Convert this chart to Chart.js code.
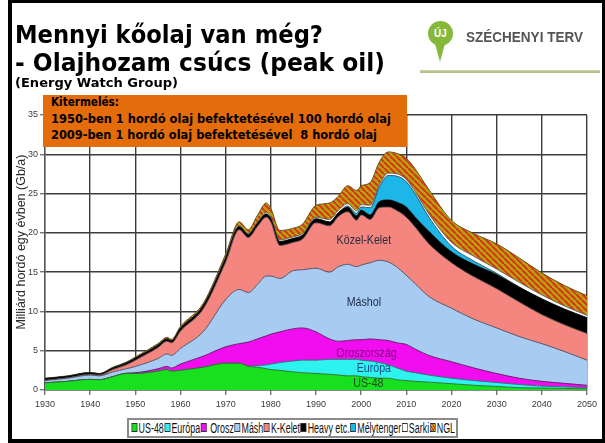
<!DOCTYPE html>
<html>
<head>
<meta charset="utf-8">
<script src="https://cdn.jsdelivr.net/npm/chart.js@4"></script>
<style>
  html, body { margin: 0; padding: 0; background: #fff; }
  #slide { position: relative; width: 605px; height: 443px; overflow: hidden; background: #fff; }
  #chart { position: absolute; left: 0; top: 0; }
  .fit { position: absolute; white-space: pre; transform-origin: 0 0; line-height: 1; }
  .title { font-family: "DejaVu Sans", sans-serif; font-weight: bold; font-size: 24px; color: #000; left: 15px; }
  #frame { position: absolute; left: 8px; top: -1px; width: 590px; height: 436px; border: 4px solid #000; pointer-events: none; }
  #box { position: absolute; left: 43px; top: 95px; width: 364px; height: 52px; background: #E46C0A; }
  .boxline { font-family: "DejaVu Sans", sans-serif; font-weight: bold; font-size: 11.5px; color: #000; left: 51px; }
  #pin { position: absolute; left: 428px; top: 21px; width: 25px; height: 25px; border-radius: 50%; background: #86B83C; }
  #pintail { position: absolute; left: 434px; top: 40px; width: 0; height: 0;
    border-left: 6.5px solid transparent; border-right: 6.5px solid transparent; border-top: 22px solid #86B83C; }
  #uj { position: absolute; left: 428px; top: 28px; width: 25px; text-align: center; font: bold 10px "Liberation Sans", sans-serif; color: #fff; }
  #rule { position: absolute; left: 420px; top: 70px; width: 180px; height: 3px; background: linear-gradient(#C9D3A8, #AEBB80); }
  #legend { position: absolute; left: 127px; top: 418px; width: 327px; height: 16px; border: 2px solid #8a8a8a; background: #fff; overflow: hidden; }
  #legend .fit { left: 2px; top: 1px; font-family: "Liberation Sans", sans-serif; font-size: 14px; line-height: 14px; color: #111; }
  .sw { display: inline-block; width: 7px; height: 7px; border: 1px solid #333; margin: 0 2px 0 1px; vertical-align: 1px; }
</style>
</head>
<body>
<div id="slide">
  <canvas id="chart" width="605" height="443"></canvas>

  <div class="fit title" style="top:23px" data-w="308">Mennyi kőolaj van még?</div>
  <div class="fit title" style="top:51px" data-w="370">- Olajhozam csúcs (peak oil)</div>
  <div class="fit title" style="top:76px;font-size:13px" data-w="163">(Energy Watch Group)</div>

  <div id="pintail"></div>
  <div id="pin"></div>
  <div id="uj">ÚJ</div>
  <div class="fit" style="left:466px;top:29px;font:bold 14.5px 'Liberation Sans',sans-serif;color:#555" data-w="117">SZÉCHENYI TERV</div>
  <div id="rule"></div>

  <div id="box"></div>
  <div class="fit boxline" style="top:97px" data-w="68">Kitermelés:</div>
  <div class="fit boxline" style="top:114px" data-w="340">1950-ben 1 hordó olaj befektetésével 100 hordó olaj</div>
  <div class="fit boxline" style="top:130px" data-w="326">2009-ben 1 hordó olaj befektetésével  8 hordó olaj</div>

  <div id="legend"><div class="fit" data-w="324" id="legendInner"></div></div>
  <div id="frame"></div>
</div>

<script>
// years on the x axis
const years = [1930, 1935, 1940, 1942, 1945, 1948, 1950, 1955, 1957, 1958, 1960, 1965,
  1970, 1973, 1975, 1977, 1979, 1980, 1982, 1985, 1987,
  1990, 1993, 1995, 1997, 1999, 2000, 2002, 2004, 2006, 2008,
  2010, 2012, 2015, 2020, 2025, 2030, 2035, 2040, 2045, 2050];

// production per region, Gb per year (each layer on top of the one before)
const us48 = [0.9, 1.1, 1.35, 1.3, 1.7, 2.1, 2.1, 2.4, 2.6, 2.4, 2.5, 2.9,
  3.4, 3.4, 3.0, 2.9, 2.7, 2.6, 2.5, 2.3, 2.2,
  2.1, 2.0, 1.9, 1.8, 1.8, 1.7, 1.6, 1.5, 1.5, 1.3,
  1.2, 1.1, 1.0, 0.8, 0.6, 0.45, 0.3, 0.25, 0.2, 0.15];
const europa = [0, 0, 0, 0, 0, 0, 0, 0, 0, 0, 0, 0,
  0, 0, 0.05, 0.2, 0.5, 0.7, 1.0, 1.4, 1.6,
  1.7, 1.9, 2.0, 2.1, 2.1, 2.1, 2.1, 2.0, 1.7, 1.5,
  1.2, 1.1, 0.9, 0.7, 0.6, 0.5, 0.4, 0.25, 0.2, 0.15];
const orosz = [0, 0, 0, 0, 0, 0.05, 0.1, 0.3, 0.4, 0.4, 0.8, 1.4,
  2.1, 2.5, 3.05, 3.4, 3.7, 3.8, 3.9, 4.1, 4.1,
  3.6, 2.6, 2.3, 2.4, 2.5, 2.6, 2.8, 2.9, 3.1, 3.2,
  3.4, 3.0, 2.5, 2.1, 1.6, 1.15, 0.8, 0.6, 0.45, 0.3];
const mash = [0.3, 0.4, 0.55, 0.5, 0.6, 0.55, 0.8, 1.3, 1.6, 1.6, 2.0, 3.1,
  6.0, 6.9, 6.3, 6.9, 7.6, 7.4, 6.8, 7.4, 7.4,
  8.1, 8.5, 9.5, 9.7, 9.3, 9.5, 9.7, 10.1, 10.0, 9.6,
  8.8, 8.3, 7.5, 6.8, 6.2, 5.8, 5.3, 4.8, 4.05, 3.2];
const kKelet = [0.05, 0.05, 0.1, 0.1, 0.3, 0.5, 0.8, 1.4, 1.6, 1.6, 2.2, 2.9,
  4.8, 7.6, 7.0, 7.4, 7.5, 6.9, 4.2, 3.6, 3.9,
  5.8, 5.9, 6.4, 6.7, 5.9, 6.4, 5.5, 6.7, 7.0, 7.2,
  7.4, 7.2, 6.7, 5.8, 5.4, 5.0, 4.4, 3.7, 3.4, 3.4];
const heavy = [0.2, 0.2, 0.2, 0.15, 0.2, 0.25, 0.25, 0.3, 0.3, 0.25, 0.35, 0.4,
  0.5, 0.4, 0.4, 0.4, 0.4, 0.4, 0.5, 0.5, 0.5,
  0.5, 0.5, 0.5, 0.6, 0.6, 0.6, 0.6, 0.8, 0.9, 1.1,
  1.3, 1.3, 1.6, 1.4, 1.6, 1.8, 1.9, 2.0, 2.0, 2.0];
const melytenger = [0, 0, 0, 0, 0, 0, 0, 0, 0, 0, 0, 0,
  0, 0, 0, 0, 0, 0, 0, 0, 0,
  0, 0, 0, 0.1, 0.3, 0.4, 0.9, 1.8, 3.1, 3.3,
  3.2, 2.9, 1.8, 0.7, 0.4, 0.15, 0, 0, 0, 0];
const sarki = [0, 0, 0, 0, 0, 0, 0, 0, 0, 0, 0, 0,
  0.05, 0.1, 0.1, 0.1, 0.2, 0.2, 0.2, 0.2, 0.2,
  0.2, 0.3, 0.3, 0.3, 0.3, 0.3, 0.3, 0.3, 0.3, 0.3,
  0.3, 0.3, 0.4, 0.5, 0.6, 0.55, 0.6, 0.5, 0.4, 0.3];
const ngl = [0.05, 0.05, 0.05, 0.05, 0.1, 0.1, 0.15, 0.2, 0.2, 0.2, 0.25, 0.3,
  0.45, 0.5, 0.5, 0.9, 1.2, 1.1, 1.2, 1.1, 1.2,
  1.5, 2.1, 1.8, 2.3, 2.6, 2.4, 2.9, 2.9, 2.7, 2.6,
  2.7, 2.9, 3.1, 2.8, 2.9, 3.2, 3.1, 2.8, 2.6, 2.5];

const legendLabels = ['US-48', 'Európa', ' Orosz', 'Másh', 'K-Kelet', 'Heavy etc.', 'Mélytenger', 'Sarki', 'NGL'];
const yTicks = [0, 5, 10, 15, 20, 25, 30, 35];
const xTicks = [1930, 1940, 1950, 1960, 1970, 1980, 1990, 2000, 2010, 2020, 2030, 2040, 2050];

function hatch() {
  const c = document.createElement('canvas');
  c.width = 6; c.height = 6;
  const g = c.getContext('2d');
  g.fillStyle = '#B5A60C';
  g.fillRect(0, 0, 6, 6);
  g.strokeStyle = '#D8361A';
  g.lineWidth = 2.1;
  g.beginPath();
  for (const o of [-6, 0, 6]) { g.moveTo(o, 0); g.lineTo(o + 6, 6); }
  g.stroke();
  return g.createPattern(c, 'repeat');
}

const layers = [
  {label: legendLabels[0], data: us48,       fill: '#19E01E', line: '#2c6a2c', css: '#19E01E'},
  {label: legendLabels[1], data: europa,     fill: '#2EF2F0', line: '#2f5f66', css: '#2EF2F0'},
  {label: legendLabels[2], data: orosz,      fill: '#F20CF0', line: '#5a1a5a', css: '#F20CF0'},
  {label: legendLabels[3], data: mash,       fill: '#A8CBF2', line: '#4a4a5a', css: '#A8CBF2'},
  {label: legendLabels[4], data: kKelet,     fill: '#F4857F', line: '#4a3a3a', css: '#F4857F'},
  {label: legendLabels[5], data: heavy,      fill: '#000000', line: '#000000', css: '#000'},
  {label: legendLabels[6], data: melytenger, fill: '#1DB6E8', line: '#2a4a5a', css: '#1DB6E8'},
  {label: legendLabels[7], data: sarki,      fill: '#FFFFFF', line: '#555555', css: '#fff'},
  {label: legendLabels[8], data: ngl,        fill: hatch(),   line: '#5a4a10',
   css: 'repeating-linear-gradient(45deg,#D8361A 0 1.5px,#B5A60C 1.5px 3px)'}
];

const regionLabels = [
  {text: 'Közel-Kelet', year: 2000.6, value: 19.0, color: '#2a2a3c'},
  {text: 'Máshol',      year: 2000.6, value: 11.2, color: '#1c2a48'},
  {text: 'Oroszország', year: 2001.2, value: 4.7,  color: '#7a0a7a'},
  {text: 'Európa',      year: 2002.8, value: 2.75, color: '#1a4c86'},
  {text: 'US-48',       year: 2001.6, value: 0.85, color: '#1d4a1d'}
];

const labelPlugin = {
  id: 'regionLabels',
  afterDatasetsDraw(chart) {
    const {ctx, scales: {x, y}} = chart;
    ctx.save();
    ctx.font = '13px "Liberation Sans", Arial, sans-serif';
    ctx.textAlign = 'center';
    ctx.textBaseline = 'middle';
    regionLabels.forEach(l => {
      ctx.save();
      ctx.translate(x.getPixelForValue(l.year), y.getPixelForValue(l.value));
      ctx.scale(0.82, 1);
      ctx.fillStyle = l.color;
      ctx.fillText(l.text, 0, 0);
      ctx.restore();
    });
    ctx.restore();
  }
};

function build() {
  new Chart(document.getElementById('chart'), {
    type: 'line',
    data: {
      datasets: layers.map((l, i) => ({
        label: l.label,
        data: years.map((yr, k) => ({x: yr, y: l.data[k]})),
        backgroundColor: l.fill,
        borderColor: l.line,
        borderWidth: i === 5 ? 0.5 : 0.9,
        fill: i === 0 ? 'origin' : '-1',
        pointRadius: 0,
        cubicInterpolationMode: 'monotone'
      }))
    },
    options: {
      responsive: false,
      animation: false,
      events: [],
      layout: {padding: {left: 0, top: 115, right: 18, bottom: 0}},
      plugins: {legend: {display: false}, tooltip: {enabled: false}},
      scales: {
        x: {
          type: 'linear', min: 1930, max: 2050,
          afterFit: s => { s.height = 53; },
          afterBuildTicks: s => { s.ticks = xTicks.map(v => ({value: v})); },
          grid: {color: '#3c3c3c', lineWidth: 1.4, tickColor: '#777', tickLength: 5},
          border: {color: '#555', width: 1.3},
          ticks: {color: '#3a3a3a', padding: 4, maxRotation: 0, font: {family: 'Liberation Sans', size: 9}, callback: v => String(v)}
        },
        y: {
          stacked: true, min: 0, max: 35,
          afterFit: s => { s.width = 45; },
          afterBuildTicks: s => { s.ticks = yTicks.map(v => ({value: v})); },
          grid: {color: '#3c3c3c', lineWidth: 1.4, tickColor: '#777', tickLength: 5},
          border: {color: '#555', width: 1.3},
          ticks: {color: '#3a3a3a', padding: 2, font: {family: 'Liberation Sans', size: 9}},
          title: {display: true, text: '\u00a0'.repeat(6) + 'Milliárd hordó egy évben (Gb/a)', color: '#2a2a2a',
            font: {family: 'Liberation Sans', size: 12.5}, padding: {top: 14, bottom: 0}}
        }
      }
    },
    plugins: [labelPlugin]
  });
}

function buildLegend() {
  const inner = document.getElementById('legendInner');
  layers.forEach(l => {
    const sw = document.createElement('span');
    sw.className = 'sw';
    sw.style.background = l.css;
    inner.appendChild(sw);
    inner.appendChild(document.createTextNode(l.label));
  });
}

function fitTexts() {
  document.querySelectorAll('.fit[data-w]').forEach(el => {
    el.style.display = 'inline-block';
    const w = el.getBoundingClientRect().width;
    const target = +el.dataset.w;
    if (w > 0) el.style.transform = 'scaleX(' + (target / w).toFixed(4) + ')';
  });
}

buildLegend();
(document.fonts ? document.fonts.ready : Promise.resolve()).then(() => {
  fitTexts();
  build();
});
</script>
</body>
</html>
